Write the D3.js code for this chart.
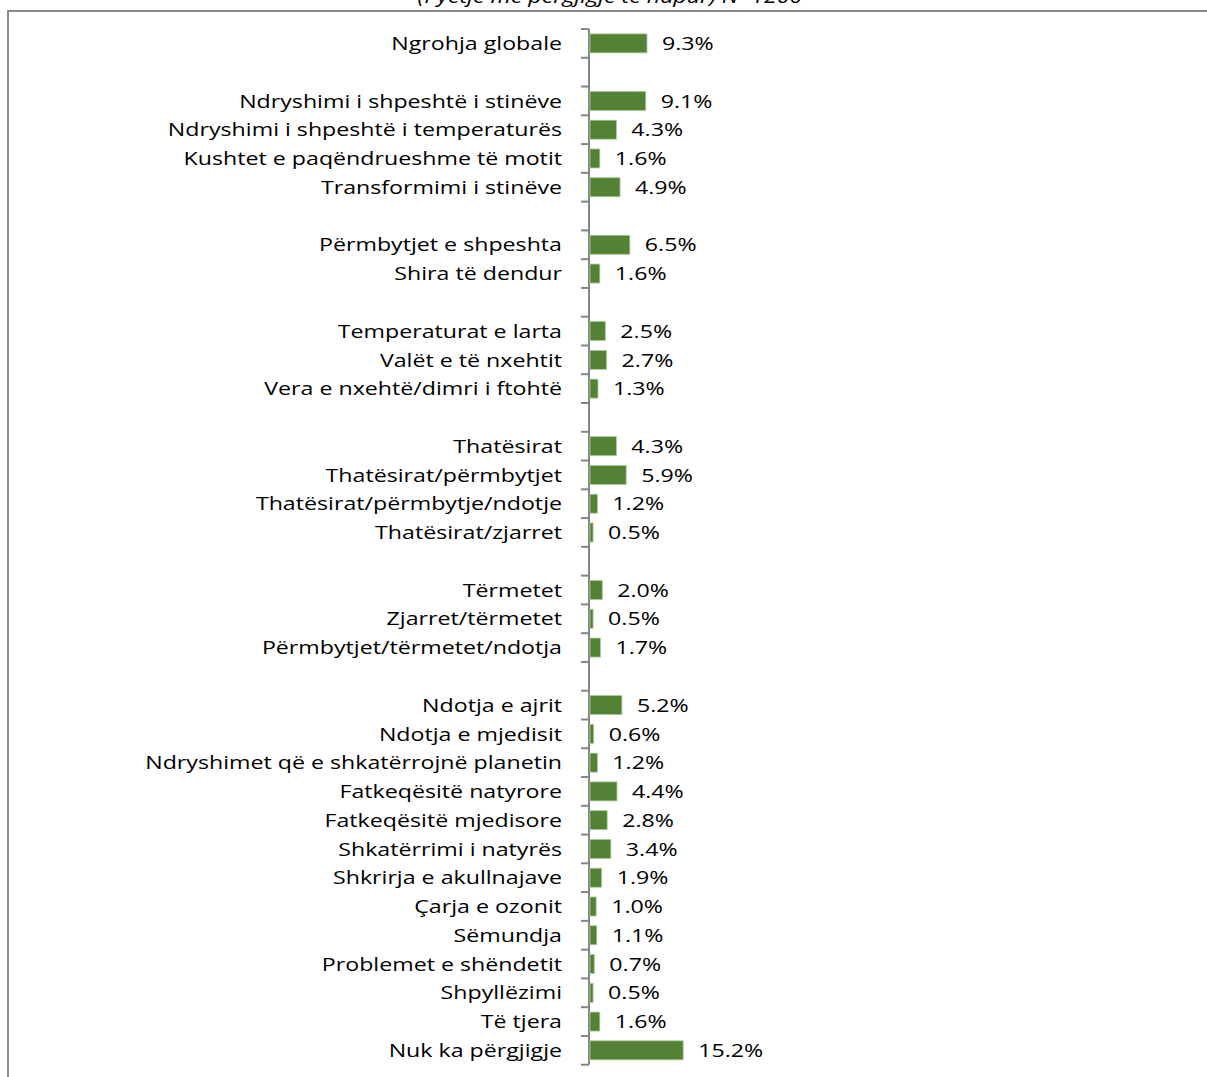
<!DOCTYPE html>
<html>
<head>
<meta charset="utf-8">
<script src="https://cdn.jsdelivr.net/npm/d3@7"></script>
<style>
  body { margin: 0; background: #fff; }
  svg { display: block; }
  text { font-family: 'Open Sans', sans-serif; fill: #000; }
</style>
</head>
<body>
<div id="plot"></div>
<script>
const width = 1207;
const height = 1077;
const stretch = 1.22; // the reference lettering is wide, stretch it sideways

// categories, in order, grouped (a blank row sits between groups)
const categories = [
    'Ngrohja globale',
    'Ndryshimi i shpeshtë i stinëve',
    'Ndryshimi i shpeshtë i temperaturës',
    'Kushtet e paqëndrueshme të motit',
    'Transformimi i stinëve',
    'Përmbytjet e shpeshta',
    'Shira të dendur',
    'Temperaturat e larta',
    'Valët e të nxehtit',
    'Vera e nxehtë/dimri i ftohtë',
    'Thatësirat',
    'Thatësirat/përmbytjet',
    'Thatësirat/përmbytje/ndotje',
    'Thatësirat/zjarret',
    'Tërmetet',
    'Zjarret/tërmetet',
    'Përmbytjet/tërmetet/ndotja',
    'Ndotja e ajrit',
    'Ndotja e mjedisit',
    'Ndryshimet që e shkatërrojnë planetin',
    'Fatkeqësitë natyrore',
    'Fatkeqësitë mjedisore',
    'Shkatërrimi i natyrës',
    'Shkrirja e akullnajave',
    'Çarja e ozonit',
    'Sëmundja',
    'Problemet e shëndetit',
    'Shpyllëzimi',
    'Të tjera',
    'Nuk ka përgjigje'
];
const values = [9.3, 9.1, 4.3, 1.6, 4.9, 6.5, 1.6, 2.5, 2.7, 1.3, 4.3, 5.9, 1.2, 0.5,
    2.0, 0.5, 1.7, 5.2, 0.6, 1.2, 4.4, 2.8, 3.4, 1.9, 1.0, 1.1, 0.7, 0.5, 1.6, 15.2];
const groupSizes = [1, 4, 2, 3, 4, 3, 13];
const titleText = '(Pyetje me përgjigje të hapur) N=1200';

const green = '#548235';
const axisGrey = '#868686';

// build rows, with an empty row after each group but the last
const rows = [];
let k = 0;
groupSizes.forEach((n, g) => {
    for (let i = 0; i < n; i++, k++) {
        rows.push({id: `r${rows.length}`, label: categories[k], value: values[k]});
    }
    if (g < groupSizes.length - 1) rows.push({id: `r${rows.length}`, label: '', value: null});
});

const svg = d3.select('#plot')
    .append('svg')
    .attr('width', width)
    .attr('height', height);

// frame of the chart area (top and left edges show)
svg.append('path')
    .attr('d', `M8,${height}V11H${width}`)
    .attr('fill', 'none')
    .attr('stroke', '#8c8c8c')
    .attr('stroke-width', 2);

// title, cut off by the top of the picture
svg.append('text')
    .attr('transform', `translate(610,3) scale(${stretch},1)`)
    .attr('text-anchor', 'middle')
    .style('font-style', 'italic')
    .style('font-size', '19px')
    .text(titleText);

const x = d3.scaleLinear()
    .domain([0, 20])
    .range([589, 589 + 20 * 6.13]);

const y = d3.scaleBand()
    .domain(rows.map(d => d.id))
    .range([29, 29 + rows.length * 28.77])
    .paddingInner(0.34)
    .paddingOuter(0.17);

const step = y.step();
const y0 = y.range()[0];

// axis with ticks at every band boundary
const axis = svg.append('g');
axis.append('line')
    .attr('x1', x(0)).attr('x2', x(0))
    .attr('y1', y0).attr('y2', y0 + rows.length * step)
    .attr('stroke', axisGrey)
    .attr('stroke-width', 2);

axis.selectAll('.tick')
    .data(d3.range(rows.length + 1))
    .join('line')
    .attr('class', 'tick')
    .attr('x1', x(0) - 8).attr('x2', x(0))
    .attr('y1', i => y0 + i * step)
    .attr('y2', i => y0 + i * step)
    .attr('stroke', axisGrey)
    .attr('stroke-width', 2);

const filled = rows.filter(d => d.value !== null);

// bars
svg.selectAll('.bar')
    .data(filled)
    .join('rect')
    .attr('class', 'bar')
    .attr('x', x(0) + 1)
    .attr('y', d => y(d.id))
    .attr('width', d => x(d.value) - x(0))
    .attr('height', y.bandwidth())
    .attr('fill', green)
    .attr('stroke', '#a9c99a')
    .attr('stroke-width', 0.8);

// category labels
svg.selectAll('.cat')
    .data(filled)
    .join('text')
    .attr('class', 'cat')
    .attr('transform', d => `translate(562,${y(d.id) + y.bandwidth() / 2}) scale(${stretch},1)`)
    .attr('dy', '0.35em')
    .attr('text-anchor', 'end')
    .style('font-size', '19px')
    .text(d => d.label);

// value labels
svg.selectAll('.val')
    .data(filled)
    .join('text')
    .attr('class', 'val')
    .attr('transform', d => `translate(${x(d.value) + 16},${y(d.id) + y.bandwidth() / 2}) scale(${stretch},1)`)
    .attr('dy', '0.35em')
    .style('font-size', '19px')
    .text(d => d.value.toFixed(1) + '%');
</script>
</body>
</html>
